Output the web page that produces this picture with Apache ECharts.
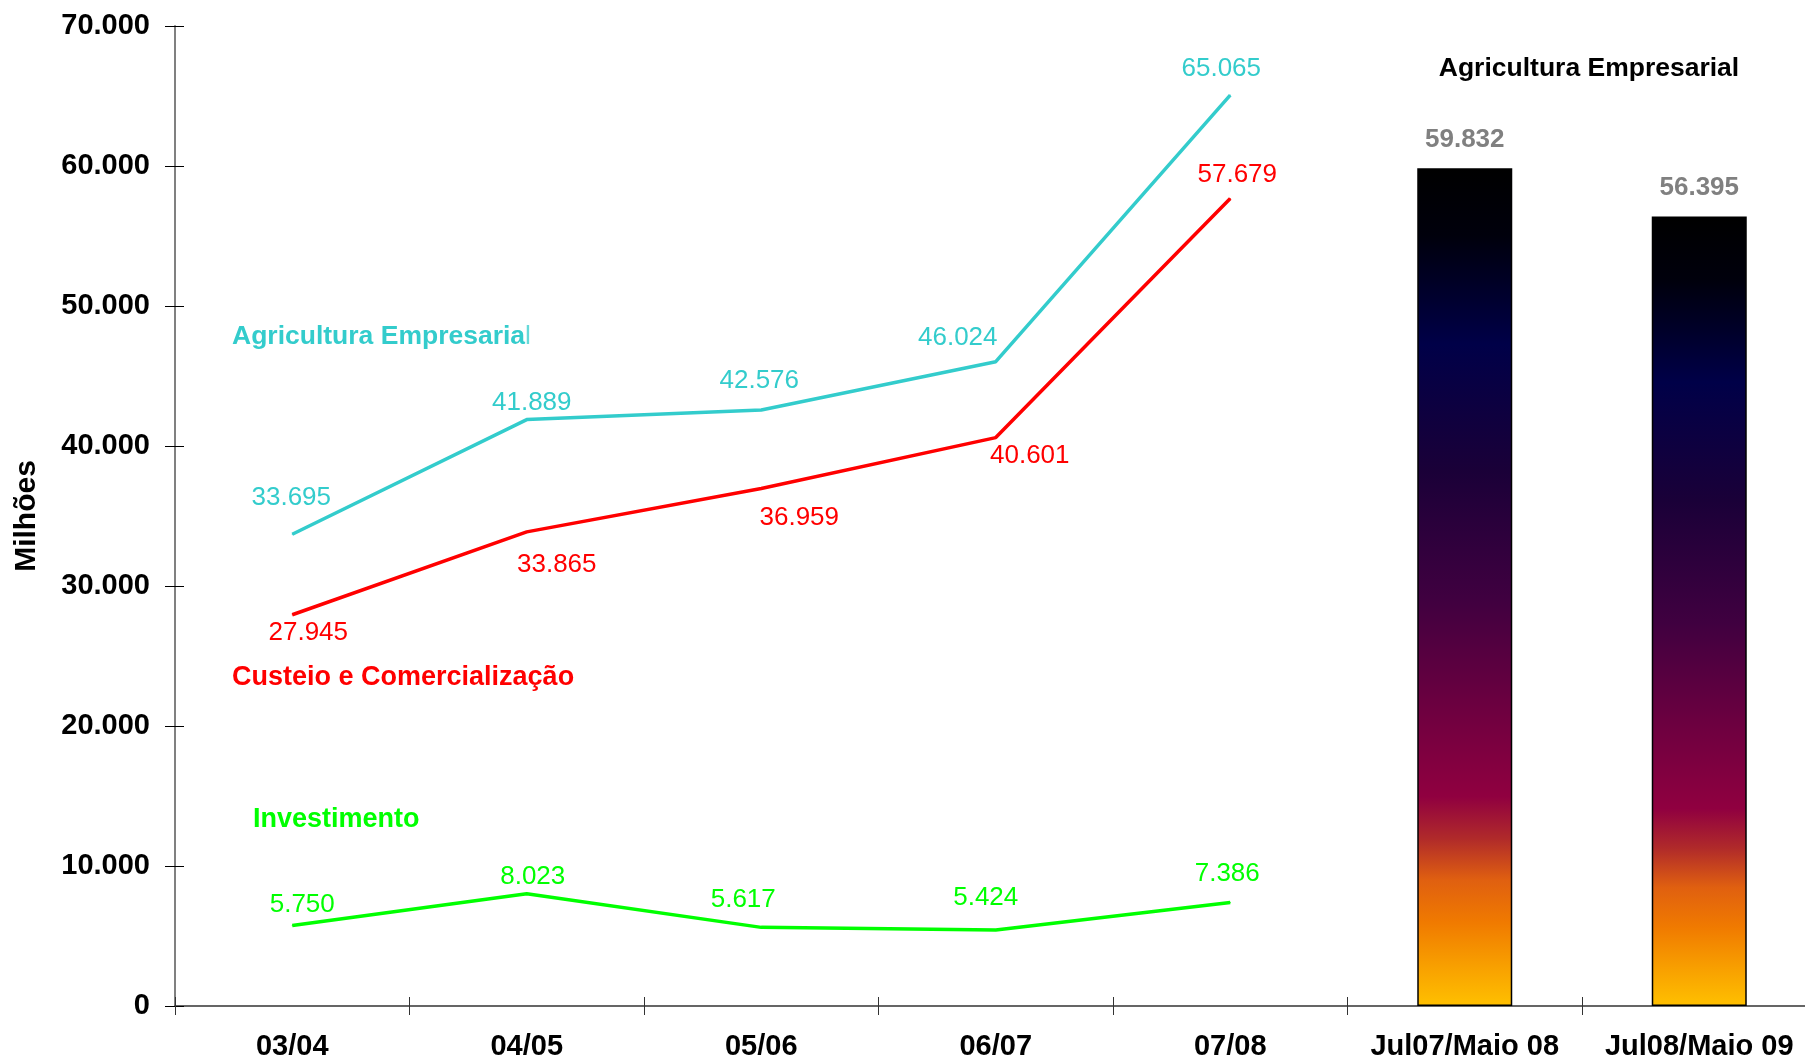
<!DOCTYPE html>
<html><head><meta charset="utf-8">
<script src="https://cdn.jsdelivr.net/npm/echarts@6/dist/echarts.min.js"></script>
<style>html,body{margin:0;padding:0;background:#fff}#c{width:1805px;height:1063px}</style>
</head><body><div id="c"></div>
<script>
// ---- data ----
const categories = ['03/04', '04/05', '05/06', '06/07', '07/08', 'Jul07/Maio 08', 'Jul08/Maio 09'];
const agriculturaEmpresarial = [33695, 41889, 42576, 46024, 65065, null, null];
const custeioComercializacao = [27945, 33865, 36959, 40601, 57679, null, null];
const investimento = [5750, 8023, 5617, 5424, 7386, null, null];
const agriculturaPeriodo = [null, null, null, null, null, 59832, 56395];
const yTicks = [0, 10000, 20000, 30000, 40000, 50000, 60000, 70000];

// ---- label placement (style) ----
const cyanLabelShift = [[-1, -36], [5, -17], [-2, -29], [-38, -24], [-9, -26]];
const redLabelShift = [[16, 18], [30, 33], [38, 29], [34, 18], [7, -24]];
const greenLabelShift = [[10, -21], [6, -17], [-18, -28], [-10, -32], [-3, -29]];

const FONT = '"Liberation Sans", Arial, Helvetica, sans-serif';
const fmt = v => String(v).replace(/\B(?=(\d{3})+(?!\d))/g, '.');

function lineData(values, shifts) {
  return values.map((v, i) => v == null ? null : { value: v, label: { offset: shifts[i] } });
}
function lineSeries(name, values, shifts, color) {
  return {
    name, type: 'line', xAxisIndex: 0, yAxisIndex: 0,
    data: lineData(values, shifts),
    symbol: 'circle', symbolSize: 1, showSymbol: true,
    itemStyle: { color },
    lineStyle: { color, width: 3.5 },
    label: {
      show: true, position: 'inside', color, fontSize: 26, fontFamily: FONT,
      align: 'center', verticalAlign: 'middle',
      formatter: p => fmt(p.value)
    },
    emphasis: { disabled: true }, silent: true, z: 3
  };
}

const chart = echarts.init(document.getElementById('c'), null, { renderer: 'canvas' });
const option = {
  animation: false,
  backgroundColor: '#ffffff',
  grid: { left: 175, top: 26, width: 1641.5, height: 980, containLabel: false, outerBoundsMode: 'none' },
  xAxis: [{
    type: 'category', data: categories, position: 'bottom',
    axisLine: { show: true, lineStyle: { color: '#333', width: 1.5 } },
    axisTick: { show: true, length: 9, lineStyle: { color: '#333', width: 1 } },
    axisLabel: { interval: 0, margin: 26, color: '#000', fontSize: 29, fontWeight: 'bold', fontFamily: FONT },
    splitLine: { show: false }
  }, {
    type: 'category', data: categories, position: 'bottom',
    axisLine: { show: false },
    axisTick: { show: true, inside: true, length: 9, lineStyle: { color: '#333', width: 1 } },
    axisLabel: { show: false }, splitLine: { show: false }
  }],
  yAxis: [{
    type: 'value', position: 'left',
    min: yTicks[0], max: yTicks[yTicks.length - 1], interval: yTicks[1] - yTicks[0],
    name: 'Milhões', nameLocation: 'middle', nameRotate: 90, nameGap: 133,
    nameTextStyle: { color: '#000', fontSize: 30, fontWeight: 'bold', fontFamily: FONT },
    axisLine: { show: true, lineStyle: { color: '#808080', width: 2 } },
    axisTick: { show: true, length: 10, lineStyle: { color: '#000', width: 1 } },
    axisLabel: { margin: 25, color: '#000', fontSize: 29, fontWeight: 'bold', fontFamily: FONT, formatter: v => fmt(v) },
    splitLine: { show: false }
  }, {
    type: 'value', position: 'left',
    min: yTicks[0], max: yTicks[yTicks.length - 1], interval: yTicks[1] - yTicks[0],
    axisLine: { show: false },
    axisTick: { show: true, inside: true, length: 9, lineStyle: { color: '#000', width: 1 } },
    axisLabel: { show: false }, splitLine: { show: false }
  }],
  series: [
    lineSeries('Agricultura Empresarial', agriculturaEmpresarial, cyanLabelShift, '#33cccc'),
    lineSeries('Custeio e Comercialização', custeioComercializacao, redLabelShift, '#ff0000'),
    lineSeries('Investimento', investimento, greenLabelShift, '#00ff00'),
    {
      name: 'Agricultura Empresarial (período)', type: 'bar', xAxisIndex: 0, yAxisIndex: 0,
      data: agriculturaPeriodo, barWidth: 95, silent: true,
      itemStyle: {
        borderColor: '#000', borderWidth: 1.5,
        color: new echarts.graphic.LinearGradient(0, 0, 0, 1, [
          { offset: 0, color: '#000000' },
          { offset: 0.08, color: '#00000c' },
          { offset: 0.21, color: '#000048' },
          { offset: 0.36, color: '#1a0038' },
          { offset: 0.515, color: '#400040' },
          { offset: 0.635, color: '#6a0040' },
          { offset: 0.75, color: '#900040' },
          { offset: 0.80, color: '#b02a2a' },
          { offset: 0.85, color: '#e06010' },
          { offset: 0.90, color: '#f07a00' },
          { offset: 0.953, color: '#f8a000' },
          { offset: 1, color: '#ffc000' }
        ])
      },
      label: {
        show: true, position: 'top', distance: 16, color: '#808080',
        fontSize: 26, fontWeight: 'bold', fontFamily: FONT,
        formatter: p => fmt(p.value)
      },
      z: 2
    }
  ],
  graphic: [
    { type: 'text', x: 1589, y: 69, silent: true,
      style: { text: 'Agricultura Empresarial', fill: '#000', font: 'bold 26.5px ' + FONT, align: 'center', verticalAlign: 'middle' } },
    { type: 'text', x: 232, y: 337, silent: true,
      style: { text: '{b|Agricultura Empresaria}{n|l}', align: 'left', verticalAlign: 'middle',
        rich: { b: { fill: '#33cccc', font: 'bold 26.5px ' + FONT }, n: { fill: '#66d9d9', font: '26.5px ' + FONT } } } },
    { type: 'text', x: 232, y: 678, silent: true,
      style: { text: 'Custeio e Comercialização', fill: '#ff0000', font: 'bold 27px ' + FONT, align: 'left', verticalAlign: 'middle' } },
    { type: 'text', x: 253, y: 820, silent: true,
      style: { text: 'Investimento', fill: '#00ff00', font: 'bold 27px ' + FONT, align: 'left', verticalAlign: 'middle' } }
  ]
};
chart.setOption(option);
</script>
</body></html>
